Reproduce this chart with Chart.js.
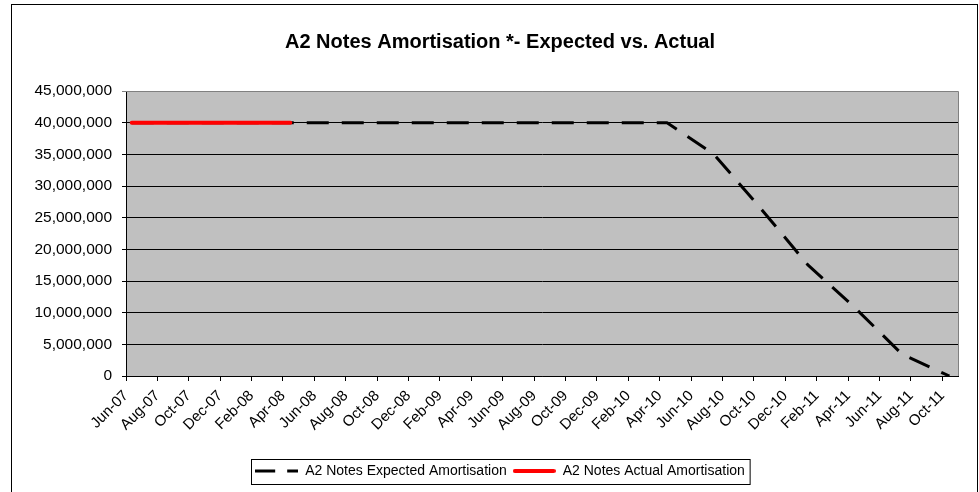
<!DOCTYPE html>
<html>
<head>
<meta charset="utf-8">
<title>A2 Notes Amortisation</title>
<script src="https://cdn.jsdelivr.net/npm/chart.js@4.4.1/dist/chart.umd.min.js"></script>
<style>
  body { margin: 0; background: #fff; }
  #wrap { width: 979px; height: 492px; }
</style>
</head>
<body>
<div id="wrap"><canvas id="amortChart" width="979" height="492"></canvas></div>
<script>
// x axis labels, one every two months from Jun-07
const tickLabels = ['Jun-07', 'Aug-07', 'Oct-07', 'Dec-07', 'Feb-08', 'Apr-08', 'Jun-08', 'Aug-08',
    'Oct-08', 'Dec-08', 'Feb-09', 'Apr-09', 'Jun-09', 'Aug-09', 'Oct-09', 'Dec-09', 'Feb-10',
    'Apr-10', 'Jun-10', 'Aug-10', 'Oct-10', 'Dec-10', 'Feb-11', 'Apr-11', 'Jun-11', 'Aug-11', 'Oct-11'];

// closing date, then quarterly payment dates
const expectedDates = ['2007-06-12', '2007-07-15', '2007-10-15', '2008-01-15', '2008-04-15',
    '2008-07-15', '2008-10-15', '2009-01-15', '2009-04-15', '2009-07-15', '2009-10-15',
    '2010-01-15', '2010-04-15', '2010-07-15', '2010-10-15', '2011-01-15', '2011-04-15',
    '2011-07-15', '2011-10-15'];
const expectedValues = [40000000, 40000000, 40000000, 40000000, 40000000, 40000000, 40000000,
    40000000, 40000000, 40000000, 40000000, 40000000, 40000000, 35000000, 26400000, 17500000,
    10700000, 3400000, 0];

const actualDates = ['2007-06-12', '2007-07-15', '2007-10-15', '2008-01-15', '2008-04-15'];
const actualValues = [40000000, 40000000, 40000000, 40000000, 40000000];

const fontFamily = '"Liberation Sans", Arial, sans-serif';

// Months elapsed since 1 Jun 2007 (the axis origin)
function monthIndex(dateStr) {
    const [y, m, d] = dateStr.split('-').map(Number);
    const daysInMonth = new Date(y, m, 0).getDate();
    return (y - 2007) * 12 + (m - 6) + (d - 1) / daysInMonth;
}

function toPoints(dates, values) {
    return dates.map((d, i) => ({ x: monthIndex(d), y: values[i] }));
}

// Small line sample used as legend marker
function lineSample(color, width, dash, cap) {
    const c = document.createElement('canvas');
    c.width = 43;
    c.height = 6;
    const g = c.getContext('2d');
    g.strokeStyle = color;
    g.lineWidth = width;
    g.lineCap = cap;
    g.setLineDash(dash);
    g.beginPath();
    const pad = cap === 'round' ? width / 2 : 0;
    g.moveTo(pad, 3);
    g.lineTo(43 - pad, 3);
    g.stroke();
    return c;
}

const legendSamples = [
    lineSample('#000000', 3, [20, 12], 'butt'),
    lineSample('#ff0000', 4, [], 'round')
];

// Grey plot background, chart frame, plot border and legend border
const framePlugin = {
    id: 'frame',
    afterLayout(chart) {
        // let the y tick labels use the space left of the axis box (no clipping)
        chart.scales.y.left = 0;
    },
    beforeDraw(chart) {
        const ctx = chart.ctx;
        const a = chart.chartArea;
        ctx.save();
        ctx.fillStyle = '#ffffff';
        ctx.fillRect(0, 0, chart.width, chart.height);
        ctx.fillStyle = '#c0c0c0';
        ctx.fillRect(a.left, a.top, a.right - a.left, a.bottom - a.top);
        ctx.restore();
    },
    afterDraw(chart) {
        const ctx = chart.ctx;
        const a = chart.chartArea;
        ctx.save();
        ctx.strokeStyle = '#000000';
        ctx.lineWidth = 1;
        ctx.strokeRect(11.5, 4.5, 966, 492);

        ctx.strokeStyle = '#808080';
        ctx.beginPath();
        ctx.moveTo(a.left, a.top + 0.5);
        ctx.lineTo(a.right + 0.5, a.top + 0.5);
        ctx.lineTo(a.right + 0.5, a.bottom);
        ctx.stroke();

        const boxes = chart.legend.legendHitBoxes;
        if (boxes && boxes.length) {
            const left = Math.min(...boxes.map(b => b.left));
            const right = Math.max(...boxes.map(b => b.left + b.width));
            const mid = boxes[0].top + boxes[0].height / 2;
            ctx.strokeStyle = '#000000';
            ctx.strokeRect(Math.round(left) - 3.5, Math.round(mid) - 11.5, right - left + 9, 25);
        }
        ctx.restore();
    }
};

const ctx = document.getElementById('amortChart').getContext('2d');
new Chart(ctx, {
    type: 'line',
    data: {
        datasets: [
            {
                label: 'A2 Notes Expected Amortisation',
                data: toPoints(expectedDates, expectedValues),
                borderColor: '#000000',
                backgroundColor: '#000000',
                borderWidth: 3,
                borderDash: [22, 13],
                borderJoinStyle: 'round',
                pointRadius: 0,
                tension: 0,
                order: 1
            },
            {
                label: 'A2 Notes Actual Amortisation',
                data: toPoints(actualDates, actualValues),
                borderColor: '#ff0000',
                backgroundColor: '#ff0000',
                borderWidth: 4,
                borderCapStyle: 'round',
                pointRadius: 0,
                tension: 0,
                order: 0
            }
        ]
    },
    options: {
        responsive: false,
        animation: false,
        layout: {
            padding: { left: 42, right: 21, top: 0, bottom: 4 }
        },
        scales: {
            x: {
                type: 'linear',
                min: 0,
                max: 53,
                afterBuildTicks: (scale) => {
                    scale.ticks = tickLabels.map((_, i) => ({ value: i * 2 }));
                },
                afterFit: (scale) => { scale.height = 82; },
                ticks: {
                    autoSkip: false,
                    maxRotation: 45,
                    minRotation: 45,
                    padding: 6,
                    color: '#000000',
                    font: { family: fontFamily, size: 15 },
                    callback: (value) => tickLabels[Math.round(value / 2)]
                },
                grid: {
                    drawOnChartArea: false,
                    tickLength: 5,
                    color: '#000000'
                },
                border: { color: '#000000', width: 1 }
            },
            y: {
                min: 0,
                max: 45000000,
                afterFit: (scale) => { scale.width = 84; },
                ticks: {
                    stepSize: 5000000,
                    padding: 10,
                    color: '#000000',
                    font: { family: fontFamily, size: 15.5 },
                    callback: (value) => value.toLocaleString('en-US')
                },
                grid: {
                    color: (c) => (c.tick && c.tick.value === 45000000 ? '#808080' : '#000000'),
                    tickLength: 4,
                    lineWidth: 1
                },
                border: { color: '#000000', width: 1 }
            }
        },
        plugins: {
            title: {
                display: true,
                text: 'A2 Notes Amortisation *- Expected vs. Actual',
                color: '#000000',
                font: { family: fontFamily, size: 20, weight: 'bold' },
                padding: { top: 30, bottom: 37 }
            },
            legend: {
                position: 'bottom',
                labels: {
                    usePointStyle: true,
                    pointStyleWidth: 43,
                    padding: 6,
                    color: '#000000',
                    font: { family: fontFamily, size: 14 },
                    sort: (a, b) => a.datasetIndex - b.datasetIndex,
                    generateLabels: (chart) => {
                        const items = Chart.defaults.plugins.legend.labels.generateLabels(chart);
                        items.forEach(item => { item.pointStyle = legendSamples[item.datasetIndex]; });
                        return items;
                    }
                }
            },
            tooltip: { enabled: false }
        }
    },
    plugins: [framePlugin]
});
</script>
</body>
</html>
